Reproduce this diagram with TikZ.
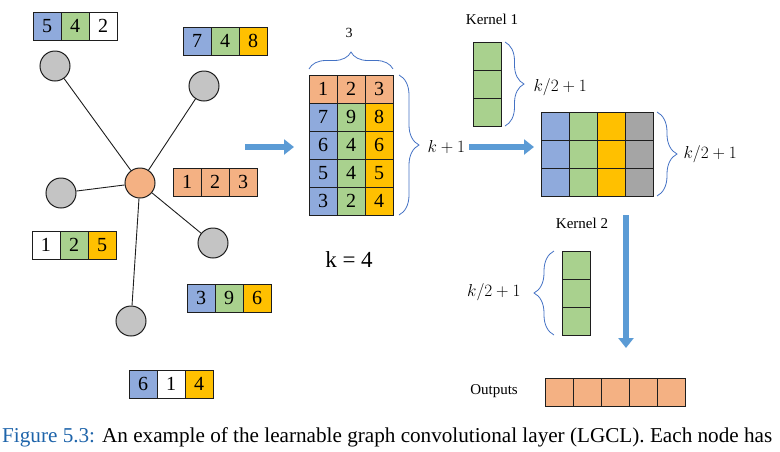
\documentclass[tikz,border=0pt]{standalone}
\usepackage{fontspec}
\setmainfont{Liberation Serif}
\usepackage{xcolor}
\usepackage{tikz}
\usetikzlibrary{arrows.meta,decorations.pathreplacing}
\definecolor{primary}{RGB}{30, 30, 30}
\definecolor{cellblue}{RGB}{143, 170, 220}
\definecolor{cellgreen}{RGB}{169, 209, 142}
\definecolor{cellyellow}{RGB}{255, 192, 0}
\definecolor{cellorange}{RGB}{244, 177, 131}
\definecolor{cellgray}{RGB}{165, 165, 165}
\definecolor{nodegray}{RGB}{196, 196, 196}
\definecolor{arrowblue}{RGB}{91, 155, 213}
\definecolor{braceblue}{RGB}{68, 114, 196}
\definecolor{capblue}{RGB}{30, 100, 170}

\begin{document}
\begin{tikzpicture}[x=1pt,y=-1pt,
  cell/.style={draw=primary,line width=0.9pt,minimum size=28pt,inner sep=0pt,outer sep=0pt,font=\fontsize{20}{20}\selectfont},
  gnode/.style={circle,draw=primary,line width=1pt,fill=nodegray,minimum size=30pt,inner sep=0pt},
  fatarrow/.style={arrowblue,line width=6pt,-{Triangle[length=10pt,width=15pt]}},
  kbrace/.style={decorate,decoration={brace,amplitude=#1},braceblue,line width=0.8pt},
  lbl/.style={font=\fontsize{17}{20}\selectfont}]
\useasboundingbox (0,0) rectangle (780,451);

% graph around the orange node
\node[gnode,fill=cellorange] (c) at (140,183) {};
\node[gnode] (n1) at (55,66) {};
\node[gnode] (n2) at (204,86) {};
\node[gnode] (n3) at (61,193) {};
\node[gnode] (n4) at (213,243) {};
\node[gnode] (n5) at (131,321) {};
\foreach \n in {n1,n2,n3,n4,n5}
  \draw[primary,line width=0.9pt] (c) -- (\n);

% feature vectors
\foreach \bx/\bxx/\byy/\ca/\va/\cb/\vb/\cc/\vc in {
  ta/33/12/cellblue/5/cellgreen/4/white/2,
  tb/183/27/cellblue/7/cellgreen/4/cellyellow/8,
  tc/173/168/cellorange/1/cellorange/2/cellorange/3,
  td/32/231/white/1/cellgreen/2/cellyellow/5,
  te/187/284/cellblue/3/cellgreen/9/cellyellow/6,
  tf/129/370/cellblue/6/white/1/cellyellow/4}
{
  \node[cell,fill=\ca,anchor=north west] (\bx-1) at (\bxx,\byy) {\va};
  \node[cell,fill=\cb,anchor=west] (\bx-2) at (\bx-1.east) {\vb};
  \node[cell,fill=\cc,anchor=west] (\bx-3) at (\bx-2.east) {\vc};
}

% sorted matrix
\foreach \va/\vb/\vc/\ca/\cb/\cc [count=\i] in {
  1/2/3/cellorange/cellorange/cellorange,
  7/9/8/cellblue/cellgreen/cellyellow,
  6/4/6/cellblue/cellgreen/cellyellow,
  5/4/5/cellblue/cellgreen/cellyellow,
  3/2/4/cellblue/cellgreen/cellyellow}
{
  \node[cell,fill=\ca] (m\i-1) at (323,{61+28*\i}) {\va};
  \node[cell,fill=\cb] (m\i-2) at (351,{61+28*\i}) {\vb};
  \node[cell,fill=\cc] (m\i-3) at (379,{61+28*\i}) {\vc};
}
\draw[kbrace=17pt] ([yshift=6pt]m1-1.north west) -- ([yshift=6pt]m1-3.north east);
\node[font=\fontsize{14}{16}\selectfont] (n3lbl) at (349,33) {3};
\draw[kbrace=20pt] ([xshift=6pt]m1-3.north east) -- ([xshift=6pt]m5-3.south east);
\node[lbl,anchor=west] (kp1) at (424,147) {$k+1$};
\node[font=\fontsize{23}{26}\selectfont] (keq) at (349,260) {k = 4};

% kernel 1
\node[font=\fontsize{15}{17}\selectfont] (k1lbl) at (492,19) {Kernel 1};
\foreach \i in {1,2,3}
  \node[cell,fill=cellgreen] (ka-\i) at (487,{28+28*\i}) {};
\draw[kbrace=19pt] ([xshift=4pt]ka-1.north east) -- ([xshift=4pt]ka-3.south east);
\node[lbl,anchor=west] (ka-lbl) at (530,87) {$k/2+1$};

% first feature map
\foreach \cc [count=\j] in {cellblue,cellgreen,cellyellow,cellgray}
  \foreach \i in {1,2,3}
    \node[cell,fill=\cc] (g\i-\j) at ({527+28*\j},{98+28*\i}) {};
\draw[kbrace=20pt] ([xshift=4pt]g1-4.north east) -- ([xshift=4pt]g3-4.south east);
\node[lbl,anchor=west] (g-lbl) at (680,154) {$k/2+1$};

% kernel 2
\node[font=\fontsize{15}{17}\selectfont] (k2lbl) at (582,223) {Kernel 2};
\foreach \i in {1,2,3}
  \node[cell,fill=cellgreen] (kb-\i) at (576,{237+28*\i}) {};
\draw[kbrace=20pt] ([xshift=-8pt]kb-3.south west) -- ([xshift=-8pt]kb-1.north west);
\node[lbl,anchor=east] (kb-lbl) at (524,292) {$k/2+1$};

% outputs
\node[font=\fontsize{15}{17}\selectfont] (outlbl) at (494,391) {Outputs};
\foreach \j in {1,...,5}
  \node[cell,fill=cellorange] (o-\j) at ({531+28*\j},392) {};

% arrows
\coordinate (a1s) at (245,147);
\coordinate (a1e) at (294,147);
\coordinate (a2s) at (469,147);
\coordinate (a2e) at (534,147);
\coordinate (a3s) at (626,215);
\coordinate (a3e) at (626,348);
\draw[fatarrow] (a1s) -- (a1e);
\draw[fatarrow] (a2s) -- (a2e);
\draw[fatarrow] (a3s) -- (a3e);

% caption
\node[anchor=west,inner sep=0pt] (cap) at (2,437) {\resizebox{770pt}{!}{\textcolor{capblue}{Figure 5.3:} An example of the learnable graph convolutional layer (LGCL). Each node has}};
\end{tikzpicture}
\end{document}
